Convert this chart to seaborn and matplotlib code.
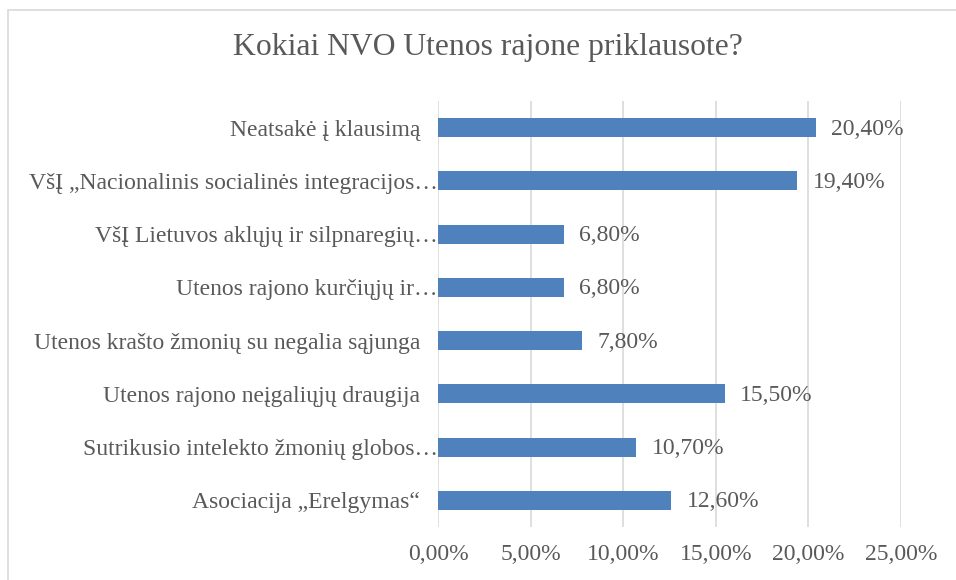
import matplotlib
matplotlib.use("Agg")
import matplotlib.pyplot as plt
import seaborn as sns
from matplotlib.patches import Rectangle
from matplotlib.ticker import FuncFormatter

# data
NB = "\u00a0\u00a0\u00a0"
categories = [
    "Neatsakė į klausimą" + NB,
    "VšĮ „Nacionalinis socialinės integracijos…",
    "VšĮ Lietuvos aklųjų ir silpnaregių…",
    "Utenos rajono kurčiųjų ir…",
    "Utenos krašto žmonių su negalia sąjunga" + NB,
    "Utenos rajono neįgaliųjų draugija" + NB,
    "Sutrikusio intelekto žmonių globos…",
    "Asociacija „Erelgymas“" + NB,
]
values = [20.4, 19.4, 6.8, 6.8, 7.8, 15.5, 10.7, 12.6]
x_ticks = [0, 5, 10, 15, 20, 25]

title = "Kokiai NVO Utenos rajone priklausote?"
bar_color = "#4F81BD"
text_color = "#595959"
grid_color = "#D9D9D9"


def pct(v):
    return f"{v:.2f}".replace(".", ",") + "%"


sns.set_theme(style="white")
plt.rcParams["font.family"] = ["Liberation Serif", "DejaVu Serif"]

fig = plt.figure(figsize=(9.56, 5.8), dpi=100)
ax = fig.add_axes([438 / 956, 1 - 527 / 580, (901 - 438) / 956, (527 - 101) / 580])

sns.barplot(x=values, y=categories, orient="h", color=bar_color,
            width=0.36, linewidth=0, saturation=1, ax=ax)

ax.set_xlim(0, 25)
ax.set_xticks(x_ticks)
ax.xaxis.set_major_formatter(FuncFormatter(lambda v, _: pct(v)))
ax.grid(axis="x", color=grid_color, linewidth=1.2)
ax.set_axisbelow(True)
for s in ax.spines.values():
    s.set_visible(False)
ax.tick_params(axis="x", length=0, pad=12, labelsize=17, labelcolor=text_color)
ax.tick_params(axis="y", length=0, pad=0, labelsize=17, labelcolor=text_color)
ax.set_xlabel("")
ax.set_ylabel("")

# data labels
for i, v in enumerate(values):
    ax.annotate(pct(v), (v, i), xytext=(11, -1), textcoords="offset points",
                va="center", ha="left", fontsize=17, color=text_color)

fig.text(488 / 956, 1 - 48 / 580, title, ha="center", va="center",
         fontsize=22.8, color=text_color)

# chart border (cut at right and bottom in the reference)
fig.patches.append(Rectangle((8 / 956, -0.1), 1.2, 1 - 10 / 580 + 0.1,
                             transform=fig.transFigure, fill=False,
                             edgecolor=grid_color, linewidth=1.2))

fig.savefig("out.png", dpi=100)
